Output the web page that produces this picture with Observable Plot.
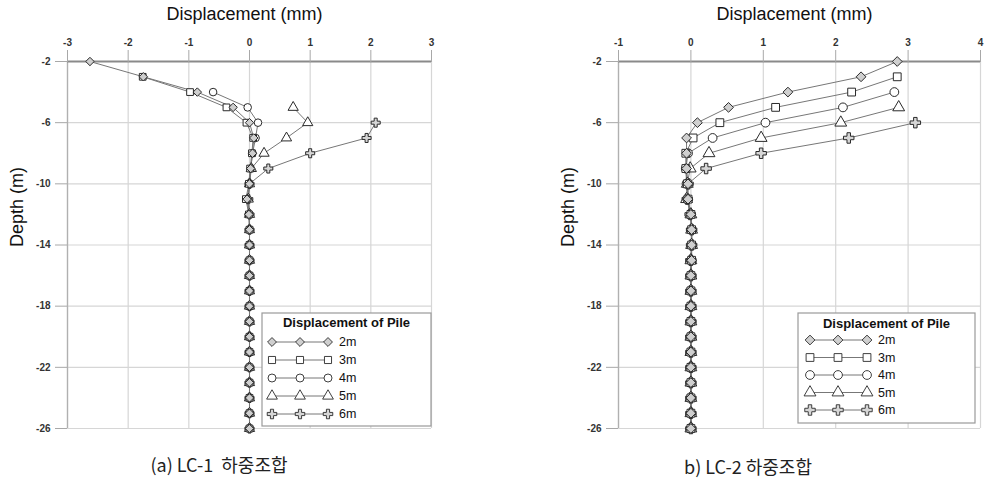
<!DOCTYPE html>
<html>
<head>
<meta charset="utf-8">
<script src="https://cdn.jsdelivr.net/npm/d3@7"></script>
<script src="https://cdn.jsdelivr.net/npm/@observablehq/plot@0.6"></script>
<style>
  body { margin: 0; background: #fff; }
  #wrap { position: relative; width: 985px; height: 483px; overflow: hidden; background: #fff; font-family: "Liberation Sans", Arial, sans-serif; }
  .panel { position: absolute; top: 0; }
  .panel svg { overflow: visible; }
  .cap { position: absolute; font-family: "Noto Sans CJK KR", sans-serif; font-size: 18px; color: #222; white-space: pre; transform: translate(-50%, -50%); }
  #overlay { position: absolute; left: 0; top: 0; }
</style>
</head>
<body>
<div id="wrap">
  <div id="left" class="panel" style="left:0px"></div>
  <div id="right" class="panel" style="left:520px"></div>
  <div class="cap" style="left:219px; top:464px">(a) LC-1  하중조합</div>
  <div class="cap" style="left:748px; top:466px">b) LC-2 하중조합</div>
</div>
<script>
// ---------- data ----------
const seriesNames = ["2m", "3m", "4m", "5m", "6m"];
const startDepths = [-2, -3, -4, -5, -6];
const xTicksL = [-3, -2, -1, 0, 1, 2, 3];
const xTicksR = [-1, 0, 1, 2, 3, 4];
const yTicks = [-2, -6, -10, -14, -18, -22, -26];
const titleX = "Displacement (mm)";
const titleY = "Depth (m)";
const legendTitle = "Displacement of Pile";

// LC-1 (left panel), one value per metre starting at each series' start depth down to -26
const lc1_2m = [-2.63, -1.75, -0.86, -0.27, 0.00, 0.07, 0.05, 0.02, 0.00, -0.04, -0.01, 0, 0, 0, 0, 0, 0, 0, 0, 0, 0, 0, 0, 0, 0];
const lc1_3m = [-1.76, -0.98, -0.38, -0.05, 0.06, 0.04, 0.01, -0.01, -0.06, -0.01, 0, 0, 0, 0, 0, 0, 0, 0, 0, 0, 0, 0, 0, 0];
const lc1_4m = [-0.60, -0.03, 0.14, 0.10, 0.05, 0.02, 0.00, -0.03, 0.00, 0, 0, 0, 0, 0, 0, 0, 0, 0, 0, 0, 0, 0, 0];
const lc1_5m = [0.72, 0.96, 0.61, 0.24, 0.03, 0.00, -0.02, 0, 0, 0, 0, 0, 0, 0, 0, 0, 0, 0, 0, 0, 0, 0];
const lc1_6m = [2.08, 1.93, 1.00, 0.31, 0.00, -0.02, 0, 0, 0, 0, 0, 0, 0, 0, 0, 0, 0, 0, 0, 0, 0];

// LC-2 (right panel)
const lc2_2m = [2.85, 2.35, 1.34, 0.52, 0.09, -0.06, -0.06, -0.06, -0.04, -0.04, 0.00, 0.01, 0.01, 0.01, 0, 0, 0, 0, 0, 0, 0, 0, 0, 0, 0];
const lc2_3m = [2.85, 2.22, 1.17, 0.40, 0.03, -0.07, -0.07, -0.05, -0.04, 0.00, 0.01, 0.01, 0.01, 0, 0, 0, 0, 0, 0, 0, 0, 0, 0, 0];
const lc2_4m = [2.81, 2.10, 1.03, 0.30, -0.04, -0.07, -0.06, -0.05, 0.00, 0.01, 0.01, 0, 0, 0, 0, 0, 0, 0, 0, 0, 0, 0, 0];
const lc2_5m = [2.87, 2.07, 0.97, 0.25, -0.01, -0.05, -0.06, 0.00, 0.01, 0.01, 0, 0, 0, 0, 0, 0, 0, 0, 0, 0, 0, 0];
const lc2_6m = [3.10, 2.18, 0.97, 0.21, -0.04, -0.05, -0.01, 0.01, 0.01, 0, 0, 0, 0, 0, 0, 0, 0, 0, 0, 0, 0];

// ---------- styles ----------
const symbols = [d3.symbolDiamond2, d3.symbolSquare, d3.symbolCircle, d3.symbolTriangle, d3.symbolCross];
const fills = ["#cfcfcf", "#fff", "#fff", "#fff", "#d6d6d6"];
const lineColor = "#777";
const markStroke = "#2a2a2a";
const fontStack = '"Liberation Sans", Arial, sans-serif';

function rows(vals, start, name) {
  return vals.map((v, i) => ({x: v, depth: start - i, series: name}));
}

function panel({series, xTicks, width, marginLeft, marginRight, r}) {
  const marks = [
    Plot.gridX(xTicks, {stroke: "#d6d6d6", strokeOpacity: 1, strokeWidth: 1.2}),
    Plot.gridY(yTicks, {stroke: "#d6d6d6", strokeOpacity: 1, strokeWidth: 1.2}),
    Plot.ruleX([xTicks[0]], {stroke: "#b0b0b0", strokeWidth: 1.3}),
    Plot.ruleY([yTicks[0]], {stroke: "#8a8a8a", strokeWidth: 1.8}),
    Plot.axisX(xTicks, {anchor: "top", tickSize: 12, tickPadding: 4, tickFormat: d => String(d), fontSize: 10, fontWeight: "bold", stroke: "#a8a8a8", fill: "#333", label: null}),
    Plot.axisY(yTicks, {anchor: "left", tickSize: 12, tickPadding: 5, tickFormat: d => String(d), fontSize: 10, fontWeight: "bold", stroke: "#a8a8a8", fill: "#333", label: null})
  ];
  // draw 6m first so 2m ends on top
  for (let k = series.length - 1; k >= 0; --k) {
    const data = rows(series[k], startDepths[k], seriesNames[k]);
    marks.push(Plot.line(data, {x: "x", y: "depth", stroke: lineColor, strokeWidth: 1}));
  }
  for (let k = series.length - 1; k >= 0; --k) {
    const data = rows(series[k], startDepths[k], seriesNames[k]);
    marks.push(Plot.dot(data, {x: "x", y: "depth", symbol: symbols[k], r, fill: fills[k], stroke: markStroke, strokeWidth: 1}));
  }
  marks.push(Plot.text([titleX], {text: d => d, frameAnchor: "top", lineAnchor: "middle", dy: -47, dx: -5, fontSize: 18, fill: "#111"}));
  marks.push(Plot.text([titleY], {text: d => d, frameAnchor: "left", lineAnchor: "middle", dx: -50, dy: 2, rotate: -90, fontSize: 18, fill: "#111"}));
  return Plot.plot({
    width, height: 440,
    marginLeft, marginRight, marginTop: 61, marginBottom: 12,
    style: {fontFamily: fontStack, background: "transparent", overflow: "visible"},
    x: {domain: [xTicks[0], xTicks[xTicks.length - 1]]},
    y: {domain: [yTicks[yTicks.length - 1], yTicks[0]]},
    marks
  });
}

document.getElementById("left").appendChild(panel({
  series: [lc1_2m, lc1_3m, lc1_4m, lc1_5m, lc1_6m], xTicks: xTicksL,
  width: 490, marginLeft: 67, marginRight: 59, r: 3.8
}));
document.getElementById("right").appendChild(panel({
  series: [lc2_2m, lc2_3m, lc2_4m, lc2_5m, lc2_6m], xTicks: xTicksR,
  width: 465, marginLeft: 98, marginRight: 5, r: 4.4
}));

// ---------- legends ----------
const svg = d3.select("#wrap").append("svg").attr("id", "overlay")
  .attr("width", 985).attr("height", 483)
  .style("font-family", fontStack);

function legend({x0, x1, y0, y1, titleY, rowY, dy, mx, labelX, r}) {
  const g = svg.append("g");
  g.append("rect").attr("x", x0).attr("y", y0).attr("width", x1 - x0).attr("height", y1 - y0)
    .attr("fill", "#fff").attr("stroke", "#9a9a9a").attr("stroke-width", 1.2);
  g.append("text").attr("x", (x0 + x1) / 2).attr("y", titleY).attr("text-anchor", "middle")
    .attr("dominant-baseline", "central").attr("font-size", 13).attr("font-weight", "bold").attr("fill", "#111")
    .text(legendTitle);
  seriesNames.forEach((name, k) => {
    const y = rowY + k * dy;
    g.append("line").attr("x1", mx[0]).attr("x2", mx[2]).attr("y1", y).attr("y2", y)
      .attr("stroke", lineColor).attr("stroke-width", 1);
    mx.forEach(x => {
      g.append("path").attr("d", d3.symbol(symbols[k], Math.PI * r * r)())
        .attr("transform", `translate(${x},${y})`)
        .attr("fill", fills[k]).attr("stroke", markStroke).attr("stroke-width", 0.9);
    });
    g.append("text").attr("x", labelX).attr("y", y).attr("dominant-baseline", "central")
      .attr("font-size", 12.5).attr("fill", "#111").text(name);
  });
}
legend({x0: 262, x1: 431, y0: 313, y1: 426, titleY: 322, rowY: 342, dy: 18, mx: [272, 300, 328], labelX: 339, r: 4});
legend({x0: 798, x1: 975, y0: 313, y1: 423, titleY: 323, rowY: 340, dy: 17.5, mx: [810, 838, 867], labelX: 878, r: 4.4});
</script>
</body>
</html>
